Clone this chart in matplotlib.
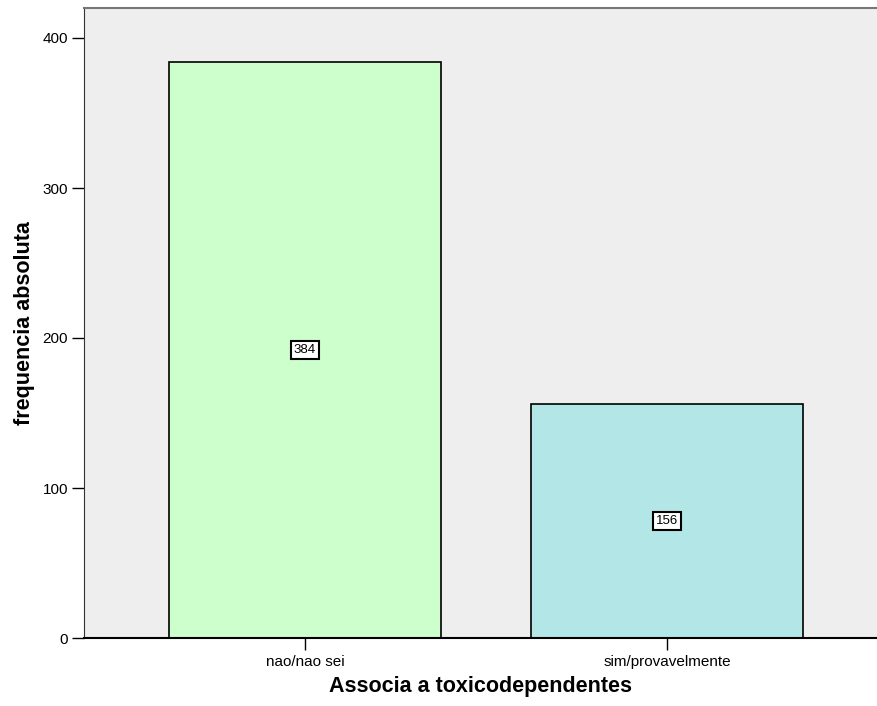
import matplotlib
matplotlib.use("Agg")
import matplotlib.pyplot as plt

categorias = ["nao/nao sei", "sim/provavelmente"]
frequencias = [384, 156]
cores = ["#ccffcc", "#b3e6e6"]

plt.rcParams['font.family'] = ['Liberation Sans', 'DejaVu Sans']

fig = plt.figure(figsize=(8.77, 7.06), dpi=100)
ax = fig.add_axes([84 / 877, 68 / 706, 1 - 84 / 877, 630 / 706])
ax.set_facecolor("#eeeeee")

x = list(range(len(categorias)))
ax.bar(x, frequencias, width=0.75, color=cores, edgecolor="black", linewidth=1.2, zorder=2)

# rotulos com o valor no meio da barra
for xi, v in zip(x, frequencias):
    ax.text(xi, v / 2, str(v), ha="center", va="center", fontsize=9.5, zorder=3,
            bbox=dict(boxstyle="square,pad=0.25", facecolor="white", edgecolor="black", linewidth=1.5))

ax.set_xlim(-0.61, 1.58)
ax.set_ylim(0, 420)
ax.set_yticks([0, 100, 200, 300, 400])
ax.set_xticks(x)
ax.set_xticklabels(categorias)
ax.tick_params(axis="y", length=8.6, width=1.0, labelsize=11, pad=3)
ax.tick_params(axis="x", length=8.5, width=1.0, labelsize=11, pad=4)

ax.spines["right"].set_visible(False)
ax.spines["top"].set_color("#777777")
ax.spines["top"].set_linewidth(1.5)
ax.spines["left"].set_color("#333333")
ax.spines["bottom"].set_linewidth(1.5)

ax.set_xlabel("Associa a toxicodependentes", fontsize=15.5, fontweight="bold", labelpad=5)
ax.set_ylabel("frequencia absoluta", fontsize=15.5, fontweight="bold", labelpad=5)

fig.savefig("out.png", dpi=100)
